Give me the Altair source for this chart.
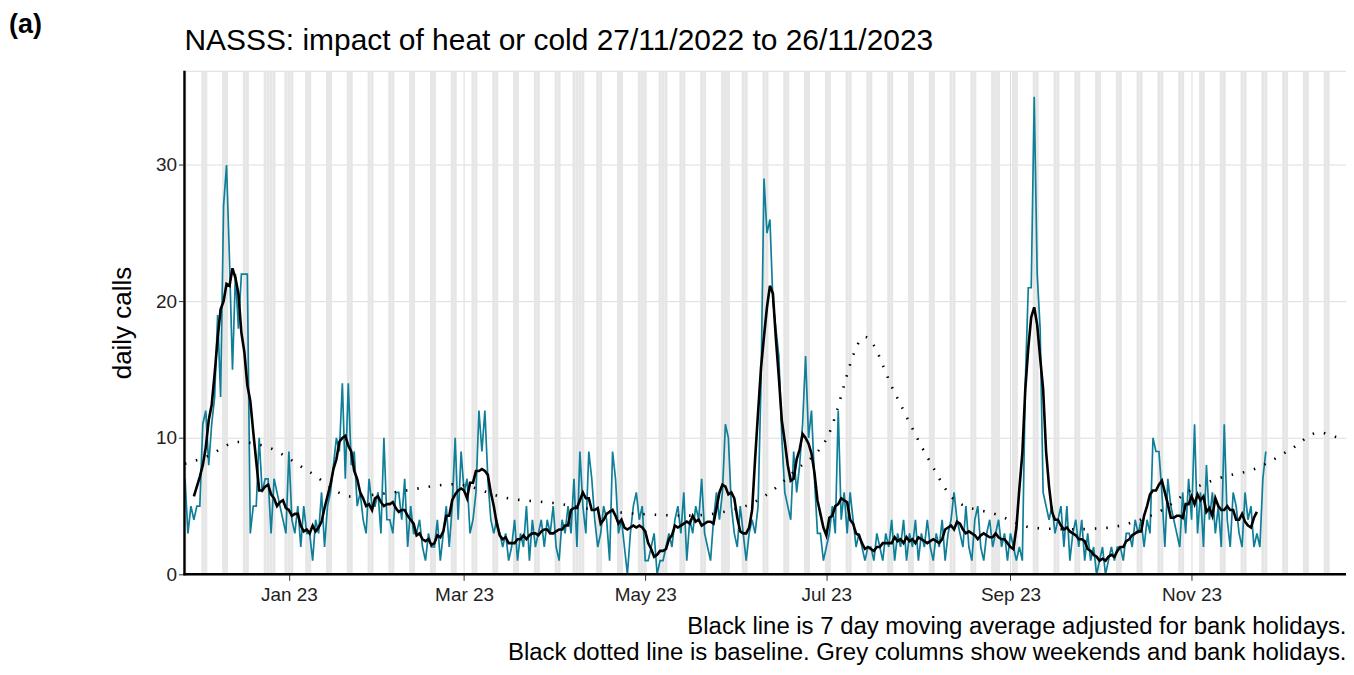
import altair as alt
import pandas as pd

# daily calls, one row per week (Sun..Sat) from Sun 27/11/2022, plus 26/11/2023
DAILY_WEEKS = [
    [7, 3, 5, 4, 5, 5, 11],
    [12, 8, 11, 13, 19, 13, 27],
    [30, 23, 15, 22, 18, 22, 22],
    [22, 3, 5, 5, 10, 6, 7],
    [7, 3, 7, 6, 5, 4, 3],
    [9, 4, 3, 5, 2, 5, 3],
    [3, 1, 4, 3, 6, 2, 5],
    [6, 8, 10, 9, 14, 7, 14],
    [8, 9, 5, 6, 4, 3, 7],
    [5, 5, 6, 3, 10, 4, 4],
    [3, 6, 6, 4, 7, 2, 5],
    [3, 3, 4, 2, 1, 3, 2],
    [2, 4, 1, 3, 5, 2, 5],
    [10, 4, 9, 6, 7, 3, 4],
    [6, 12, 9, 12, 7, 4, 3],
    [4, 3, 2, 3, 1, 2, 4],
    [1, 3, 2, 5, 1, 4, 2],
    [3, 4, 2, 4, 3, 5, 2],
    [1, 4, 3, 5, 3, 7, 2],
    [9, 5, 3, 9, 7, 4, 2],
    [3, 5, 4, 1, 9, 7, 3],
    [4, 2, 0, 3, 5, 6, 4],
    [5, 1, 1, 2, 3, 0, 1],
    [1, 2, 3, 2, 4, 5, 3],
    [6, 1, 4, 3, 5, 4, 7],
    [3, 2, 1, 4, 6, 4, 6],
    [11, 10, 5, 3, 2, 5, 3],
    [1, 3, 4, 3, 5, 14, 29],
    [25, 26, 20, 18, 16, 10, 6],
    [5, 4, 9, 6, 8, 11, 16],
    [10, 12, 7, 3, 3, 1, 2],
    [3, 5, 3, 12, 4, 6, 3],
    [6, 4, 2, 3, 2, 1, 2],
    [2, 1, 3, 2, 1, 3, 2],
    [4, 1, 3, 2, 4, 1, 3],
    [2, 4, 1, 3, 2, 4, 2],
    [1, 3, 2, 4, 1, 3, 4],
    [6, 4, 3, 2, 5, 2, 1],
    [4, 5, 2, 1, 3, 4, 2],
    [3, 4, 2, 3, 1, 3, 2],
    [1, 2, 1, 14, 21, 21, 35],
    [22, 18, 6, 5, 4, 5, 3],
    [4, 5, 2, 5, 1, 3, 4],
    [2, 4, 1, 3, 1, 2, 0],
    [1, 2, 0, 1, 2, 1, 2],
    [2, 1, 3, 3, 2, 4, 3],
    [4, 2, 4, 3, 10, 9, 9],
    [6, 2, 7, 5, 4, 3, 2],
    [6, 3, 7, 4, 11, 3, 6],
    [2, 8, 4, 6, 3, 5, 2],
    [11, 4, 2, 6, 5, 3, 2],
    [6, 4, 5, 2, 3, 2, 7],
    [9],
]

BASE_DATES = ["2022-11-27", "2022-12-04", "2022-12-15", "2022-12-25", "2023-01-08",
              "2023-01-22", "2023-02-05", "2023-02-26", "2023-03-15", "2023-04-01",
              "2023-04-15", "2023-05-01", "2023-05-15", "2023-06-01", "2023-06-12",
              "2023-06-20", "2023-07-01", "2023-07-14", "2023-07-24", "2023-08-04",
              "2023-08-14", "2023-08-27", "2023-09-09", "2023-09-22", "2023-10-03",
              "2023-10-12", "2023-10-22", "2023-11-01", "2023-11-11", "2023-11-22",
              "2023-12-04", "2023-12-14", "2023-12-19", "2023-12-23"]
BASE_VALUES = [8.1, 8.6, 9.7, 9.3, 7.5, 5.7, 6.0, 6.6, 5.6, 5.2,
               4.7, 4.4, 4.3, 4.8, 6.0, 7.5, 9.9, 17.4, 13.3, 8.6,
               5.3, 4.4, 3.4, 3.3, 3.4, 3.8, 4.7, 6.2, 7.1, 7.7,
               9.1, 10.4, 10.1, 9.9]

BANK_HOLIDAYS = ["2022-12-26", "2022-12-27", "2023-01-02", "2023-04-07", "2023-04-10",
                 "2023-05-01", "2023-05-08", "2023-05-29", "2023-08-28"]

TICKS = ["2023-01-01", "2023-03-01", "2023-05-01", "2023-07-01", "2023-09-01", "2023-11-01"]

TITLE = "NASSS: impact of heat or cold 27/11/2022 to 26/11/2023"
CAPTION = ["Black line is 7 day moving average adjusted for bank holidays.",
           "Black dotted line is baseline. Grey columns show weekends and bank holidays."]

TEAL = "#0f7f99"
GREY = "#e6e6e6"
FONT = "Liberation Sans"

calls = [v for w in DAILY_WEEKS for v in w]
daily = pd.DataFrame({"date": pd.date_range("2022-11-27", periods=len(calls)), "calls": calls})
daily["ma"] = daily["calls"].rolling(7, center=True).mean()
ma = daily.dropna()

days = pd.DataFrame({"date": pd.date_range("2022-11-27", "2023-12-22")})
hol = pd.to_datetime(BANK_HOLIDAYS)
grey = days[(days["date"].dt.dayofweek >= 5) | days["date"].isin(hol)].copy()
grey["x"] = grey["date"] - pd.Timedelta(hours=12)
grey["x2"] = grey["date"] + pd.Timedelta(hours=12)

base = pd.DataFrame({"date": pd.to_datetime(BASE_DATES), "baseline": BASE_VALUES})

xdom = [pd.Timestamp("2022-11-26T20:00").isoformat(), pd.Timestamp("2023-12-23").isoformat()]
xscale = alt.Scale(domain=xdom)
yscale = alt.Scale(domain=[0, 36.9], nice=False)

cols = alt.Chart(grey).mark_rect(color=GREY, strokeWidth=0).encode(
    x=alt.X("x:T", scale=xscale, axis=alt.Axis(
        values=[pd.Timestamp(t).isoformat() for t in TICKS], format="%b %y", domain=False,
        labelFontSize=19, labelColor="#222", tickColor="#333", tickSize=6, labelPadding=5,
        title=CAPTION, titleFontSize=24, titleFontWeight="normal", titleColor="#000",
        titleAnchor="end", titleAlign="right", titlePadding=10, titleLineHeight=26)),
    x2="x2:T",
    y=alt.value(0), y2=alt.value(505),
)

teal = alt.Chart(daily).mark_line(color=TEAL, strokeWidth=1.7).encode(
    x=alt.X("date:T", scale=xscale),
    y=alt.Y("calls:Q", scale=yscale, axis=alt.Axis(
        values=[0, 10, 20, 30], labelFontSize=19, labelColor="#222", domain=False,
        tickColor="#333", tickSize=6,
        title="daily calls", titleFontSize=26, titleFontWeight="normal",
        titleColor="#000", titlePadding=20)),
)

avg = alt.Chart(ma).mark_line(color="#000", strokeWidth=2.6).encode(
    x=alt.X("date:T", scale=xscale), y=alt.Y("ma:Q", scale=yscale))

dots = alt.Chart(base).mark_line(color="#000", strokeWidth=2.6, strokeDash=[1.5, 10],
                                 interpolate="monotone").encode(
    x=alt.X("date:T", scale=xscale), y=alt.Y("baseline:Q", scale=yscale))

left_line = alt.Chart(pd.DataFrame({"k": [0]})).mark_rule(color="#000", strokeWidth=2.4).encode(
    x=alt.value(0), y=alt.value(0), y2=alt.value(506))
bottom_line = alt.Chart(pd.DataFrame({"k": [0]})).mark_rule(color="#000", strokeWidth=2.4).encode(
    x=alt.value(-1), x2=alt.value(1165), y=alt.value(505))

tag = alt.Chart(pd.DataFrame({"t": ["(a)"]})).mark_text(
    align="left", font=FONT, color="#000", fontSize=27, fontWeight="bold").encode(
    x=alt.value(-176), y=alt.value(-46), text="t:N")

title = alt.Chart(pd.DataFrame({"t": [TITLE]})).mark_text(
    align="left", font=FONT, color="#000", fontSize=30).encode(
    x=alt.value(0), y=alt.value(-30), text="t:N")

chart = (cols + teal + avg + dots + left_line + bottom_line + tag + title).properties(
    width=1165, height=505,
    autosize=alt.AutoSizeParams(type="none"),
    padding={"left": 177, "top": 62, "right": 0, "bottom": 100},
).configure_view(stroke="transparent", strokeWidth=0).configure_axis(
    grid=False
).configure(font=FONT)

chart.save("out.html", embed_options={"renderer": "svg", "actions": False})
